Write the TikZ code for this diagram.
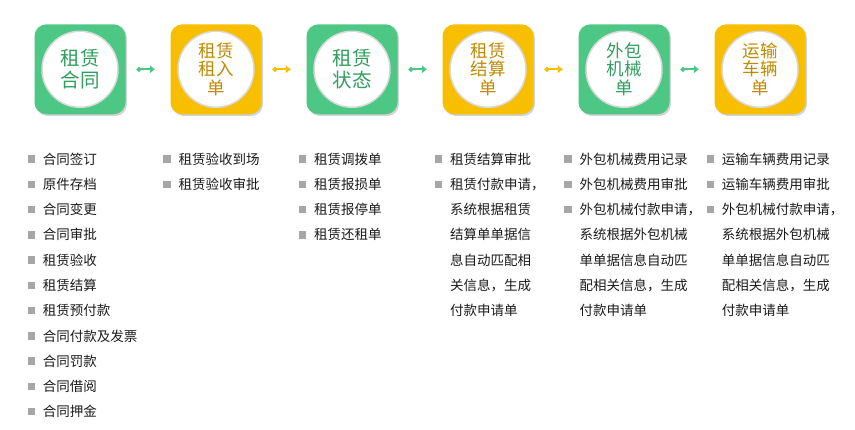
\documentclass[tikz,border=0pt]{standalone}
\usepackage{fontspec}
\setmainfont{Noto Sans CJK SC}
\usetikzlibrary{arrows.meta,shadows}
\definecolor{boxgreen}{HTML}{4CC884}
\definecolor{boxyellow}{HTML}{F8BE00}
\definecolor{gtext}{HTML}{2F9E5E}
\definecolor{ytext}{HTML}{BE8A00}
\definecolor{bulgray}{HTML}{A6A6A6}
\definecolor{itemtext}{HTML}{1A1A1A}
\tikzset{
  card/.style={rectangle, rounded corners=12pt, minimum width=91pt, minimum height=90pt, inner sep=0pt,
    drop shadow={shadow xshift=1.5pt, shadow yshift=-1.8pt, opacity=0.35, fill=gray}},
  gcard/.style={card, fill=boxgreen},
  ycard/.style={card, fill=boxyellow},
  disc/.style={circle, fill=white, draw=gray!30, line width=1.5pt, minimum size=76pt, inner sep=0pt, align=center},
  twoline/.style={font=\fontsize{19.5}{23}\selectfont},
  threeline/.style={font=\fontsize{17.5}{18.5}\selectfont},
  link/.style={line width=2.2pt, shorten <=11pt, shorten >=15.5pt, {Circle[length=4.6pt]}-{Triangle[length=5pt,width=7.5pt]}},
  itm/.style={anchor=west, inner sep=0pt, text=itemtext, font=\fontsize{13.5}{16}\selectfont},
  bul/.style={rectangle, fill=bulgray, minimum size=7.5pt, inner sep=0pt}
}
\begin{document}
\begin{tikzpicture}[x=1pt,y=-1pt]
\useasboundingbox (0,0) rectangle (855,430);
% cards
\node[gcard] (b1) at (80,69.3) {};
\node[ycard] (b2) at (216,69.3) {};
\node[gcard] (b3) at (352,69.3) {};
\node[ycard] (b4) at (488,69.3) {};
\node[gcard] (b5) at (624,69.3) {};
\node[ycard] (b6) at (760,69.3) {};
\node[disc, twoline, text=gtext] (c1) at (b1.center) {租赁\\[-1pt]合同};
\node[disc, threeline, text=ytext] (c2) at (b2.center) {租赁\\租入\\单};
\node[disc, twoline, text=gtext] (c3) at (b3.center) {租赁\\[-1pt]状态};
\node[disc, threeline, text=ytext] (c4) at (b4.center) {租赁\\结算\\单};
\node[disc, threeline, text=gtext] (c5) at (b5.center) {外包\\机械\\单};
\node[disc, threeline, text=ytext] (c6) at (b6.center) {运输\\车辆\\单};
% connectors
\draw[link, boxgreen] (b1) -- (b2);
\draw[link, boxyellow] (b2) -- (b3);
\draw[link, boxgreen] (b3) -- (b4);
\draw[link, boxyellow] (b4) -- (b5);
\draw[link, boxgreen] (b5) -- (b6);
% lists
\foreach \t [count=\i] in {合同签订,原件存档,合同变更,合同审批,租赁验收,租赁结算,租赁预付款,合同付款及发票,合同罚款,合同借阅,合同押金}{
  \node[itm] (la\i) at (42.7,{159+(\i-1)*25.27}) {\t};
  \node[bul] (pa\i) at ([xshift=-11.3pt]la\i.west) {};
}
\foreach \t [count=\i] in {租赁验收到场,租赁验收审批}{
  \node[itm] (lb\i) at (178.3,{159+(\i-1)*25.27}) {\t};
  \node[bul] (pb\i) at ([xshift=-11.3pt]lb\i.west) {};
}
\foreach \t [count=\i] in {租赁调拨单,租赁报损单,租赁报停单,租赁还租单}{
  \node[itm] (lc\i) at (314,{159+(\i-1)*25.27}) {\t};
  \node[bul] (pc\i) at ([xshift=-11.3pt]lc\i.west) {};
}
\foreach \t [count=\i] in {租赁结算审批,租赁付款申请，}{
  \node[itm] (ld\i) at (450,{159+(\i-1)*25.27}) {\t};
  \node[bul] (pd\i) at ([xshift=-11.3pt]ld\i.west) {};
}
\foreach \t [count=\i from 3] in {系统根据租赁,结算单单据信,息自动匹配相,关信息，生成,付款申请单}{
  \node[itm] (ld\i) at (450,{159+(\i-1)*25.27}) {\t};
}
\foreach \t [count=\i] in {外包机械费用记录,外包机械费用审批,外包机械付款申请，}{
  \node[itm] (le\i) at (579.5,{159+(\i-1)*25.27}) {\t};
  \node[bul] (pe\i) at ([xshift=-11.3pt]le\i.west) {};
}
\foreach \t [count=\i from 4] in {系统根据外包机械,单单据信息自动匹,配相关信息，生成,付款申请单}{
  \node[itm] (le\i) at (579.5,{159+(\i-1)*25.27}) {\t};
}
\foreach \t [count=\i] in {运输车辆费用记录,运输车辆费用审批,外包机械付款申请，}{
  \node[itm] (lf\i) at (721.7,{159+(\i-1)*25.27}) {\t};
  \node[bul] (pf\i) at ([xshift=-11.3pt]lf\i.west) {};
}
\foreach \t [count=\i from 4] in {系统根据外包机械,单单据信息自动匹,配相关信息，生成,付款申请单}{
  \node[itm] (lf\i) at (721.7,{159+(\i-1)*25.27}) {\t};
}
\end{tikzpicture}
\end{document}
